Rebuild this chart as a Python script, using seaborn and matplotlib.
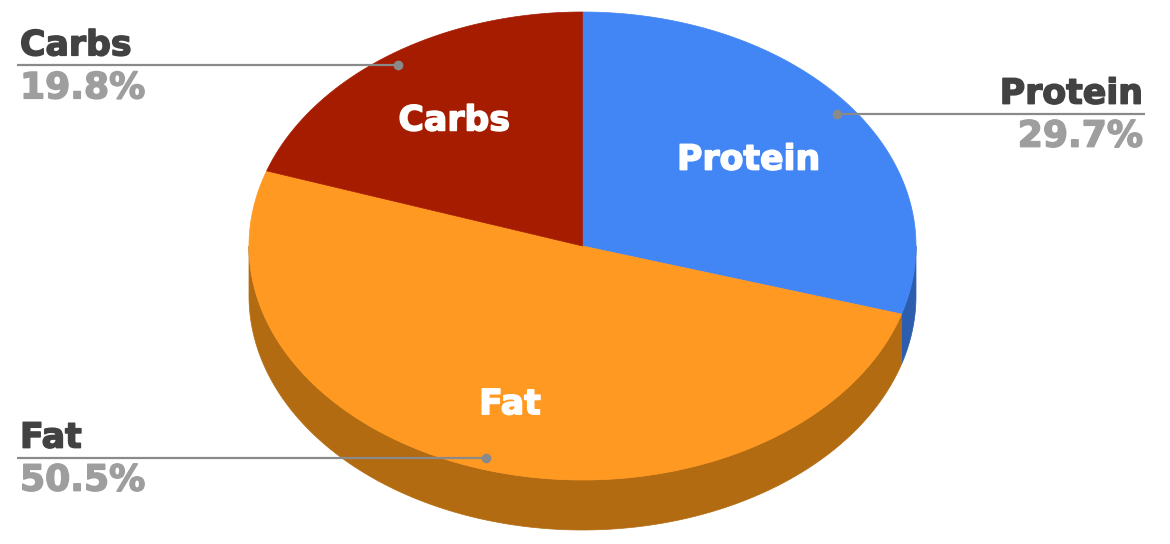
import numpy as np
import seaborn as sns
import matplotlib.pyplot as plt
import matplotlib.patheffects as pe
from matplotlib.patches import Polygon

# slice data, clockwise from 12 o'clock
labels = ['Protein', 'Fat', 'Carbs']
shares = [29.7, 50.5, 19.8]
top_colors = ['#4285F4', '#FF9922', '#A61C00']
side_colors = ['#2C5DAE', '#B36B11', '#741400']

sns.set_theme(style="white")
plt.rcParams['font.family'] = ['DejaVu Sans']

fig = plt.figure(figsize=(11.7, 5.44), dpi=100)
ax = fig.add_axes([0, 0, 1, 1])
ax.set_xlim(0, 1170)
ax.set_ylim(544, 0)
ax.axis('off')

# ellipse geometry of the tilted pie (pixel space)
cx, cy, rx, ry, depth = 582.5, 246, 333.5, 234, 50


def pt(t, r=1.0):
    # t in degrees, clockwise from top
    a = np.radians(t)
    return cx + r * rx * np.sin(a), cy - r * ry * np.cos(a)


def heavy(color):
    # thicken the glyphs a bit, source font is heavier than DejaVu Bold
    return [pe.withStroke(linewidth=1.1, foreground=color)]


bounds = np.concatenate([[0], np.cumsum(shares)]) / sum(shares) * 360

# side walls (front half only: 90..270 deg)
for i in range(len(shares)):
    a0, a1 = max(bounds[i], 90), min(bounds[i + 1], 270)
    if a1 <= a0:
        continue
    t = np.linspace(a0, a1, 200)
    xs, ys = pt(t)
    verts = np.column_stack([np.r_[xs, xs[::-1]], np.r_[ys, ys[::-1] + depth]])
    ax.add_patch(Polygon(verts, closed=True, facecolor=side_colors[i],
                         edgecolor=side_colors[i], lw=0.5))

# top face
for i in range(len(shares)):
    t = np.linspace(bounds[i], bounds[i + 1], 300)
    xs, ys = pt(t)
    verts = np.column_stack([np.r_[cx, xs], np.r_[cy, ys]])
    ax.add_patch(Polygon(verts, closed=True, facecolor=top_colors[i],
                         edgecolor=top_colors[i], lw=0.5))

# labels inside slices
inner_r = [0.62, 0.71, 0.66]
for i, name in enumerate(labels):
    mid = (bounds[i] + bounds[i + 1]) / 2
    x, y = pt(mid, inner_r[i])
    ax.text(x, y, name, color='white', fontsize=25, fontweight='bold',
            ha='center', va='center', path_effects=heavy('white'))

# outside labels with leader lines
for i, name in enumerate(labels):
    mid = (bounds[i] + bounds[i + 1]) / 2
    dx, dy = pt(mid, 0.95)
    if mid < 180:
        x_end, ha, tx = 1145, 'right', 1143
    else:
        x_end, ha, tx = 17, 'left', 20
    ax.plot([dx, x_end], [dy, dy], color='#8A8A8A', lw=1.6, solid_capstyle='butt')
    ax.plot(dx, dy, 'o', color='#8A8A8A', markersize=6)
    ax.text(tx, dy - 10, name, color='#424242', fontsize=25, fontweight='bold',
            ha=ha, va='baseline', path_effects=heavy('#424242'))
    ax.text(tx, dy + 33, f"{shares[i]:.1f}%", color='#9E9E9E', fontsize=26,
            fontweight='bold', ha=ha, va='baseline', path_effects=heavy('#9E9E9E'))

fig.savefig('out.png', dpi=100)
